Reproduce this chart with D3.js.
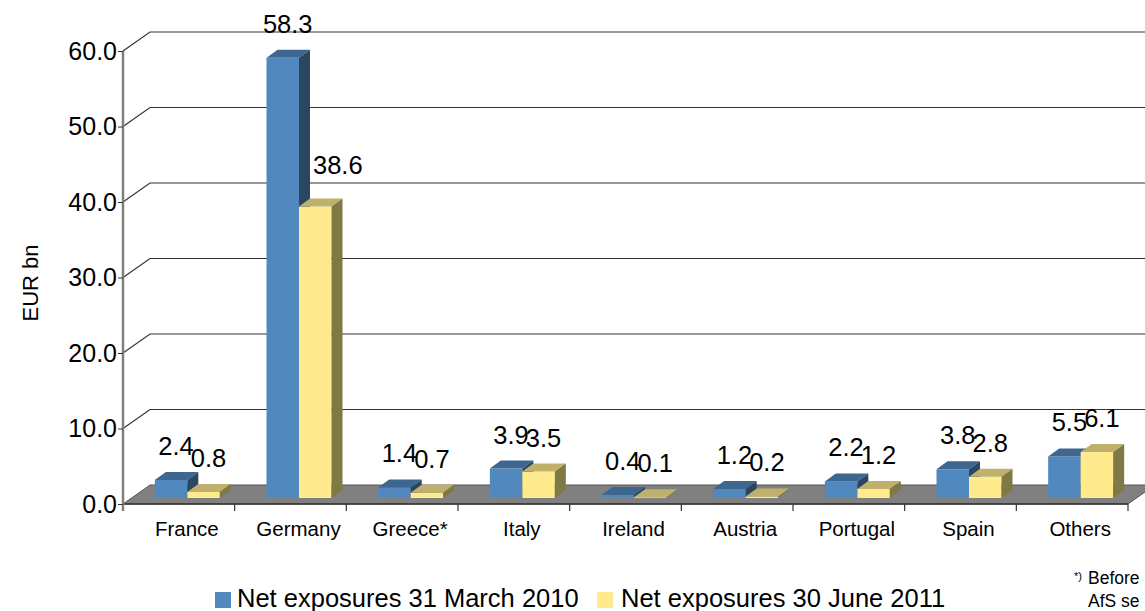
<!DOCTYPE html>
<html>
<head>
<meta charset="utf-8">
<script src="https://cdn.jsdelivr.net/npm/d3@7/dist/d3.min.js"></script>
<style>
  html, body { margin: 0; padding: 0; background: #fff; }
  svg { display: block; font-family: "Liberation Sans", Arial, sans-serif; }
</style>
</head>
<body>
<svg id="chart" width="1145" height="611"></svg>
<script>
// Net exposures by country, EUR bn
const categories = ["France", "Germany", "Greece*", "Italy", "Ireland", "Austria", "Portugal", "Spain", "Others"];
const march2010 = [2.4, 58.3, 1.4, 3.9, 0.4, 1.2, 2.2, 3.8, 5.5];
const june2011 = [0.8, 38.6, 0.7, 3.5, 0.1, 0.2, 1.2, 2.8, 6.1];
const seriesNames = ["Net exposures 31 March 2010", "Net exposures 30 June 2011"];
const yTicks = [0, 10, 20, 30, 40, 50, 60];

(function () {
const svg = d3.select("#chart");

// plot geometry (front plane of the 3D box)
const plotLeft = 123, plotRight = 1128, plotBottom = 504, plotTop = 51;
const depth = { dx: 27, dy: -19 };          // wall depth offset
const barShift = { dx: 8.5, dy: -6 };       // bars sit slightly behind the front edge
const barDepth = { dx: 11, dy: -8 };        // bar thickness

const y = d3.scaleLinear().domain([0, 60]).range([plotBottom, plotTop]);
const x = d3.scaleBand().domain(categories).range([plotLeft, plotRight]).padding(0);
const x1 = d3.scaleBand().domain([0, 1]).range([0, x.bandwidth()]).paddingInner(0).paddingOuter(0.718);

const palette = [
  { front: "#5189BF", top: "#3D6791", side: "#2B4660" },
  { front: "#FFEB8D", top: "#BFB16B", side: "#7F7946" }
];

// back wall gridlines with diagonal connectors to the front axis
const grid = svg.append("g");
yTicks.forEach(t => {
  const yf = y(t);
  if (t === 0) return;
  grid.append("path")
    .attr("d", `M${plotLeft},${yf} L${plotLeft + depth.dx},${yf + depth.dy} L1145,${yf + depth.dy}`)
    .attr("fill", "none").attr("stroke", "#333").attr("stroke-width", 1.2);
});

// floor
const floorPts = [
  [plotLeft, plotBottom], [plotRight, plotBottom],
  [plotRight + depth.dx, plotBottom + depth.dy], [plotLeft + depth.dx, plotBottom + depth.dy]
];
svg.append("polygon")
  .attr("points", floorPts.map(p => p.join(",")).join(" "))
  .attr("fill", "#808080").attr("stroke", "#555").attr("stroke-width", 1);
svg.append("line")
  .attr("x1", plotLeft).attr("x2", plotRight).attr("y1", plotBottom).attr("y2", plotBottom)
  .attr("stroke", "#333").attr("stroke-width", 1.5);

// category ticks under the floor
svg.append("g").selectAll("line")
  .data(categories)
  .join("line")
  .attr("x1", d => x(d) + x.bandwidth()).attr("x2", d => x(d) + x.bandwidth())
  .attr("y1", plotBottom).attr("y2", plotBottom + 7)
  .attr("stroke", "#333").attr("stroke-width", 1.2);

// front value axis
const axis = svg.append("g")
  .attr("transform", `translate(${plotLeft},0)`)
  .call(d3.axisLeft(y).tickValues(yTicks).tickFormat(d3.format(".1f")).tickSize(5).tickSizeOuter(0).tickPadding(1));
axis.select(".domain").attr("stroke", "#808080").attr("stroke-width", 2.5)
  .attr("d", `M0,${plotTop}V${plotBottom + 7}`);
axis.selectAll(".tick line").attr("stroke", "#333");
axis.selectAll(".tick text").attr("font-size", 25).attr("fill", "#000")
  .attr("font-family", "Liberation Sans, Arial, sans-serif");

// axis title
svg.append("text")
  .attr("transform", `translate(38,283) rotate(-90)`)
  .attr("text-anchor", "middle")
  .attr("font-size", 22)
  .text("EUR bn");

// 3D bars
const series = [march2010, june2011];
const bars = [];
categories.forEach((c, i) => {
  series.forEach((vals, s) => {
    const v = vals[i];
    const x0 = x(c) + x1(s) + barShift.dx;
    const w = x1.bandwidth();
    const yb = y(0) + barShift.dy;
    const yt = y(v) + barShift.dy;
    bars.push({ c, i, s, v, x0, w, yb, yt });
  });
});

const bg = svg.append("g");
bars.forEach(b => {
  const col = palette[b.s];
  const g = bg.append("g");
  g.append("rect")
    .attr("x", b.x0).attr("y", b.yt).attr("width", b.w).attr("height", b.yb - b.yt)
    .attr("fill", col.front);
  g.append("polygon")
    .attr("points", [
      [b.x0, b.yt], [b.x0 + b.w, b.yt],
      [b.x0 + b.w + barDepth.dx, b.yt + barDepth.dy], [b.x0 + barDepth.dx, b.yt + barDepth.dy]
    ].map(p => p.join(",")).join(" "))
    .attr("fill", col.top);
  g.append("polygon")
    .attr("points", [
      [b.x0 + b.w, b.yt], [b.x0 + b.w + barDepth.dx, b.yt + barDepth.dy],
      [b.x0 + b.w + barDepth.dx, b.yb + barDepth.dy], [b.x0 + b.w, b.yb]
    ].map(p => p.join(",")).join(" "))
    .attr("fill", col.side);
});

// value labels above each bar; a label is pushed clear of a taller neighbour
const lg = svg.append("g").attr("font-size", 25.5).attr("fill", "#000");
bars.forEach(b => {
  const base = b.yt - 25;
  const t = lg.append("text").text(d3.format(".1f")(b.v));
  if (b.s === 1) {
    const other = bars.find(o => o.i === b.i && o.s === 0);
    if (other.yt + barDepth.dy < base - 20) {
      t.attr("x", other.x0 + other.w + barDepth.dx + 3).attr("y", base - 8).attr("text-anchor", "start");
      return;
    }
  }
  t.attr("x", b.x0 + b.w / 2 + 5).attr("y", base).attr("text-anchor", "middle");
});

// category labels
svg.append("g").selectAll("text")
  .data(categories)
  .join("text")
  .attr("x", d => x(d) + x.bandwidth() / 2 + 8)
  .attr("y", 536)
  .attr("text-anchor", "middle")
  .attr("font-size", 20.5)
  .text(d => d);

// legend
const legendPos = [{ sx: 215, tx: 237 }, { sx: 597, tx: 621 }];
seriesNames.forEach((n, s) => {
  svg.append("rect")
    .attr("x", legendPos[s].sx).attr("y", 592).attr("width", 16).attr("height", 16)
    .attr("fill", palette[s].front);
  svg.append("text")
    .attr("x", legendPos[s].tx).attr("y", 607)
    .attr("font-size", 25.5)
    .text(n);
});

// footnote (runs off the right edge)
const fn = svg.append("g").attr("font-size", 17.5);
fn.append("text").attr("x", 1074).attr("y", 580).attr("font-size", 11).text("*)");
fn.append("text").attr("x", 1088).attr("y", 584).text("Before");
fn.append("text").attr("x", 1088).attr("y", 607).text("AfS se");
})();
</script>
</body>
</html>
